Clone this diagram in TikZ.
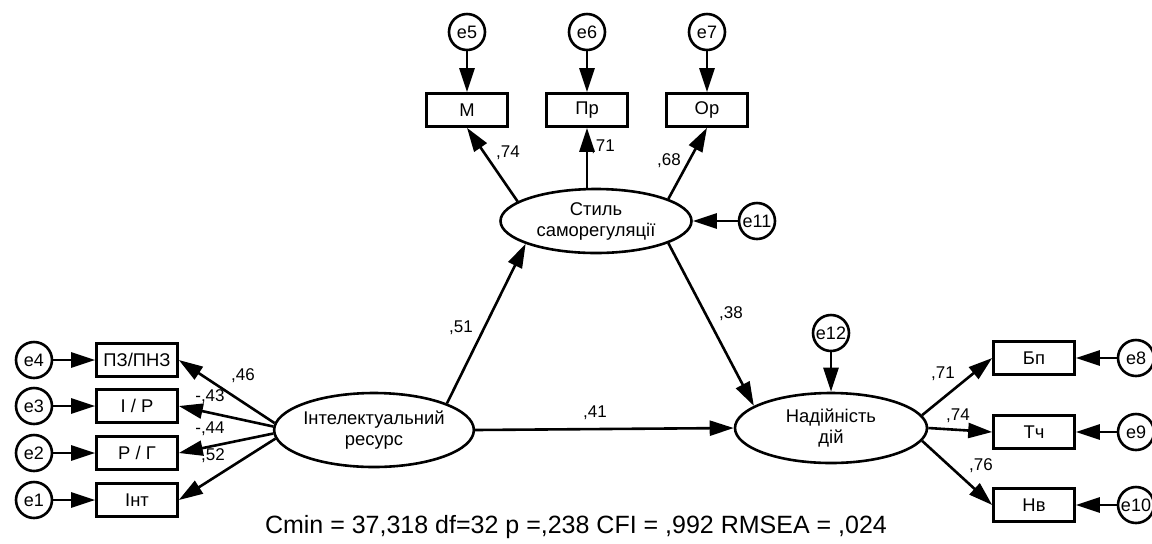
\documentclass[tikz,border=0pt]{standalone}
\usepackage{fontspec}
\setmainfont{Liberation Sans}
\usetikzlibrary{shapes,arrows.meta}

\begin{document}
\begin{tikzpicture}[x=0.5pt, y=-0.5pt, node distance = 50pt, auto]
{\fontsize{9.2}{10.5}\selectfont
	\tikzstyle{observed} = [rectangle, minimum width=40.5pt, minimum height=16.5pt, inner sep=0pt, line width=1.3pt, draw=black]
	\tikzstyle{latent} = [ellipse, minimum width=96pt, minimum height=35pt, inner sep=0pt, align=center, line width=1.3pt, draw=black]
	\tikzstyle{error} = [circle, minimum size=18pt, inner sep=0pt, line width=1.3pt, draw=black, font=\fontsize{9}{10}\selectfont]
	\tikzstyle{coef} = [inner sep=0pt, font=\fontsize{8.5}{9}\selectfont]
	\tikzstyle{arrow} = [line width=1.3pt, -{Triangle[length=12pt, width=7.5pt]}]

	\useasboundingbox (0,0) rectangle (1152,543);

	% latent variables
	\node (intres) [latent, minimum width=99pt, minimum height=37pt] at (374,430) {Інтелектуальний\\ресурс};
	\node (stil) [latent, minimum width=95.5pt, minimum height=32pt] at (596,221) {Стиль\\саморегуляції};
	\node (nad) [latent] at (831,428) {Надійність\\дій};

	% indicators
	\node (pz) [observed] at (137,360) {ПЗ/ПНЗ};
	\node (ir) [observed] at (137,406) {І / Р};
	\node (rg) [observed] at (137,453) {Р / Г};
	\node (intb) [observed] at (137,500) {Інт};
	\node (m) [observed] at (467,110) {М};
	\node (pr) [observed] at (587,110) {Пр};
	\node (op) [observed] at (707,110) {Ор};
	\node (bp) [observed] at (1034,358) {Бп};
	\node (tch) [observed] at (1034,432) {Тч};
	\node (nv) [observed] at (1034,505) {Нв};

	% errors
	\node (e4) [error, left of=pz, node distance=51.5pt] {e4};
	\node (e3) [error, left of=ir, node distance=51.5pt] {e3};
	\node (e2) [error, left of=rg, node distance=51.5pt] {e2};
	\node (e1) [error, left of=intb, node distance=51.5pt] {e1};
	\node (e5) [error, above of=m, node distance=39pt] {e5};
	\node (e6) [error, above of=pr, node distance=39pt] {e6};
	\node (e7) [error, above of=op, node distance=39pt] {e7};
	\node (e8) [error, right of=bp, node distance=51pt] {e8};
	\node (e9) [error, right of=tch, node distance=51pt] {e9};
	\node (e10) [error, right of=nv, node distance=51pt] {e10};
	\node (e11) [error, right of=stil, node distance=80.5pt] {e11};
	\node (e12) [error, above of=nad, node distance=47.5pt] {e12};

	% coefficients
	\node [coef] at (243,376) {,46};
	\node [coef] at (210,397) {-,43};
	\node [coef] at (210,429) {-,44};
	\node [coef] at (213,456) {,52};
	\node [coef] at (461,328) {,51};
	\node [coef] at (595,413) {,41};
	\node [coef] at (731,314) {,38};
	\node [coef] at (508,153) {,74};
	\node [coef] at (603,147) {,71};
	\node [coef] at (669,161) {,68};
	\node [coef] at (943,374) {,71};
	\node [coef] at (958,416) {,74};
	\node [coef] at (981,466) {,76};

	\node (fit) at (576,527) {\fontsize{12.5}{14}\selectfont Cmin = 37,318 df=32 p =,238 CFI = ,992 RMSEA = ,024};

	\draw [arrow](e4) -- (pz);
	\draw [arrow](e3) -- (ir);
	\draw [arrow](e2) -- (rg);
	\draw [arrow](e1) -- (intb);
	\draw [arrow](e5) -- (m);
	\draw [arrow](e6) -- (pr);
	\draw [arrow](e7) -- (op);
	\draw [arrow](e8) -- (bp);
	\draw [arrow](e9) -- (tch);
	\draw [arrow](e10) -- (nv);
	\draw [arrow](e11) -- (stil);
	\draw [arrow](e12) -- (nad);
	\draw [arrow](intres.176) -- (pz.east);
	\draw [arrow](intres.178) -- (ir.east);
	\draw [arrow](intres.182) -- (rg.east);
	\draw [arrow](intres.185) -- (intb.east);
	\draw [arrow](stil.166) -- (m.south);
	\draw [arrow](stil.north -| pr) -- (pr.south);
	\draw [arrow](stil.17) -- (op.south);
	\draw [arrow](nad.8) -- (bp.west);
	\draw [arrow](nad.east) -- (tch.west);
	\draw [arrow](nad.-8) -- (nv.west);
	\draw [arrow](intres.20) -- (stil.198);
	\draw [arrow](intres.east) -- (nad.west);
	\draw [arrow](stil.-17) -- (nad.164);
	}
\end{tikzpicture}
\end{document}
